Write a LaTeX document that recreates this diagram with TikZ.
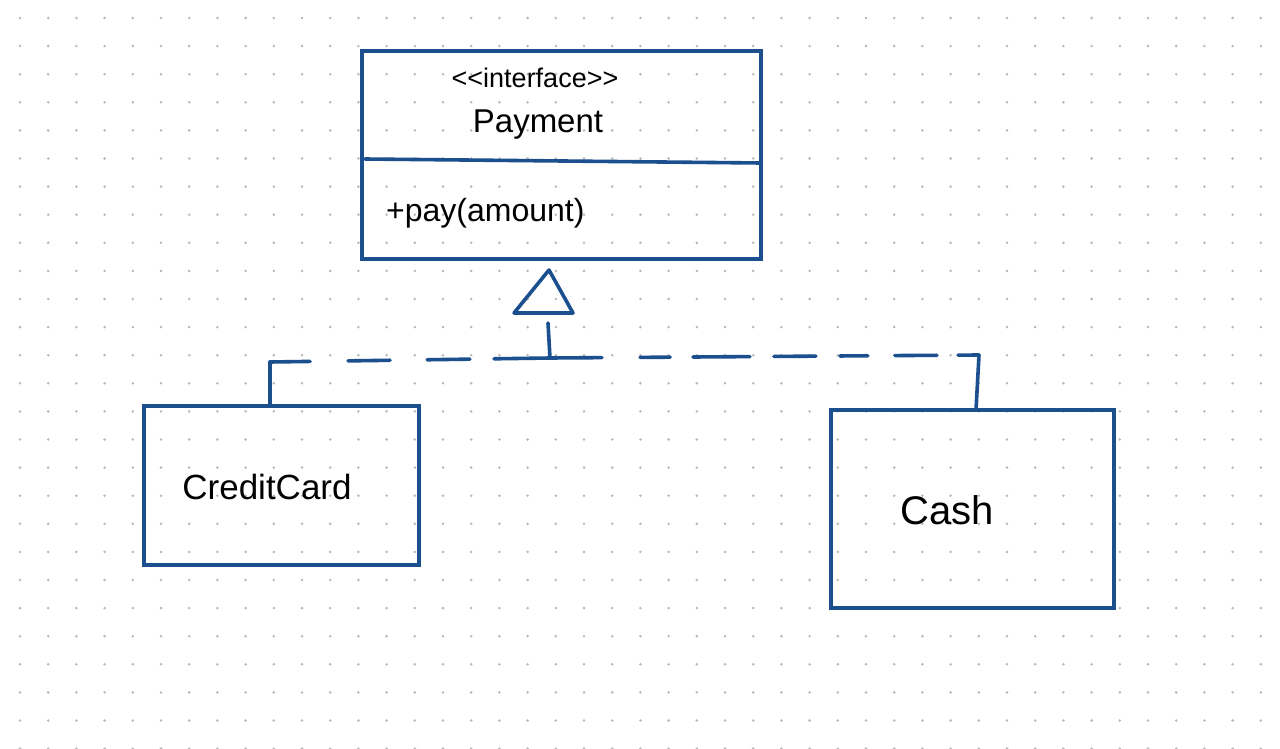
\documentclass[tikz,border=0pt]{standalone}
\usepackage{fontspec}
\setmainfont{Liberation Sans}
\usetikzlibrary{calc}
\definecolor{umlblue}{HTML}{1B4F8E}
\definecolor{dotgray}{HTML}{B8B8B8}
\tikzset{
  umlbox/.style={draw=umlblue, line width=3.6pt, rectangle, inner sep=0pt},
  umlline/.style={draw=umlblue, line width=3.6pt, line cap=round, line join=round},
  handtext/.style={text=black, inner sep=0pt, anchor=center}
}
\begin{document}
\begin{tikzpicture}[x=1pt, y=-1pt]
\useasboundingbox (0,0) rectangle (1280,749);
\fill[white] (0,0) rectangle (1280,749);
% dot grid
\foreach \i in {0,...,45} {
  \foreach \j in {0,...,26} {
    \fill[dotgray] (20+28.2*\i, 18+28.1*\j) circle (1.4pt);
  }
}
% Payment interface box
\node[umlbox, minimum width=399pt, minimum height=208pt] (pay) at (561.5,155) {};
\coordinate (sepL) at (365,159);
\coordinate (sepR) at (761,163);
\draw[umlline] (sepL) -- (sepR);
\node[handtext, font=\fontsize{27}{30}\selectfont] (stereo) at (535,78) {{<}{<}interface{>}{>}};
\node[handtext, font=\fontsize{33}{36}\selectfont] (pname) at (538,125) {Payment};
\node[handtext, font=\fontsize{32}{36}\selectfont, anchor=west] (op) at (386,213) {+pay(amount)};
% CreditCard and Cash boxes
\node[umlbox, minimum width=275pt, minimum height=159pt] (cc) at (281.5,485.5) {};
\node[handtext, font=\fontsize{35}{38}\selectfont] (cctext) at (267,487) {CreditCard};
\node[umlbox, minimum width=283pt, minimum height=198pt] (cash) at (972.5,509) {};
\node[handtext, font=\fontsize{40}{44}\selectfont] (cashtext) at (947,510) {Cash};
% realization connector
\coordinate (apex) at (549,270);
\coordinate (tL) at (514,313);
\coordinate (tR) at (573,313);
\coordinate (stemTop) at (548,323);
\coordinate (jn) at (550,358);
\coordinate (lc) at (270,362);
\coordinate (rc) at (979,355);
\draw[umlline] (apex) -- (tL) -- (tR) -- cycle;
\draw[umlline] (stemTop) -- (jn);
% dashed horizontal, left part
\foreach \a/\b in {0/0.143, 0.279/0.429, 0.561/0.714, 0.8/1} {
  \draw[umlline] ($(lc)!\a!(jn)$) -- ($(lc)!\b!(jn)$);
}
% dashed horizontal, right part
\foreach \a/\b in {0/0.121, 0.210/0.280, 0.333/0.466, 0.522/0.620, 0.676/0.741, 0.804/0.902, 0.951/1} {
  \draw[umlline] ($(jn)!\a!(rc)$) -- ($(jn)!\b!(rc)$);
}
\draw[umlline] (lc) -- (lc |- cc.north);
\draw[umlline] (rc) -- (976,410) coordinate (cashtop);
\end{tikzpicture}
\end{document}
